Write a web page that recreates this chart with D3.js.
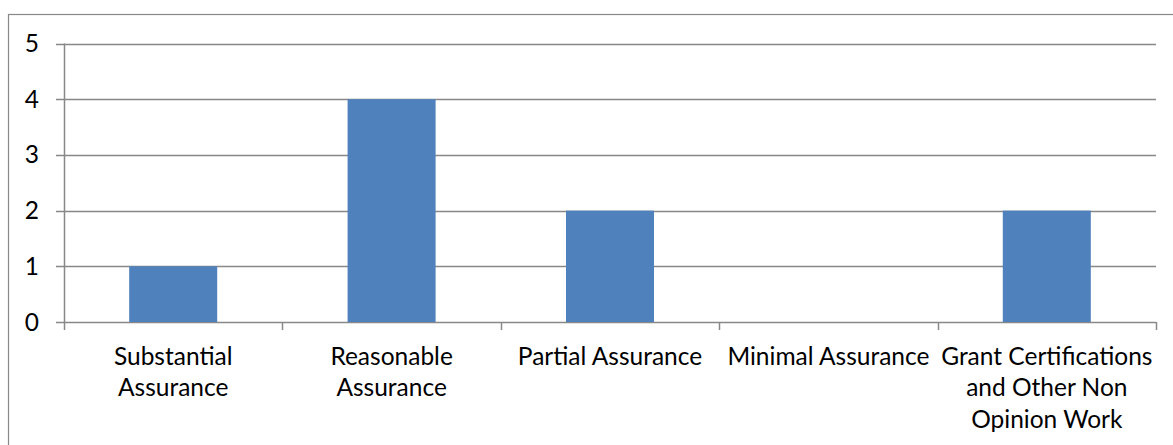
<!DOCTYPE html>
<html><head><meta charset="utf-8">
<script src="https://cdn.jsdelivr.net/npm/d3@7"></script>
<style>body{margin:0;background:#fff}svg{display:block}text{font-family:Lato,"Open Sans",sans-serif;fill:#000}</style>
</head><body><svg id="c" width="1173" height="445"></svg>
<script>
const categories = [["Substantial","Assurance"],["Reasonable","Assurance"],["Partial Assurance"],["Minimal Assurance"],["Grant Certifications","and Other Non","Opinion Work"]];
const values = [1,4,2,0,2];
const yTicks = [0,1,2,3,4,5];

const svg = d3.select("#c");
const m = {l:64, r:1156, t:43.5, b:322};
const fs = 24.5;
svg.append("rect").attr("x",8.5).attr("y",14.5).attr("width",1170).attr("height",440)
  .attr("fill","none").attr("stroke","#888").attr("stroke-width",1.2);

const x = d3.scaleBand().domain(d3.range(categories.length)).range([m.l,m.r]).paddingInner(0).paddingOuter(0);
const y = d3.scaleLinear().domain([0,5]).range([m.b,m.t]);

const grid = svg.append("g");
grid.selectAll("line").data(yTicks).join("line")
  .attr("x1",56).attr("x2",m.r).attr("y1",d=>Math.round(y(d))+0.5).attr("y2",d=>Math.round(y(d))+0.5)
  .attr("stroke","#888").attr("stroke-width",1.5);
svg.append("line").attr("x1",m.l+0.5).attr("x2",m.l+0.5).attr("y1",m.t).attr("y2",m.b).attr("stroke","#888").attr("stroke-width",1.5);

const bw = x.bandwidth()*0.403;
svg.append("g").selectAll("rect").data(values).join("rect")
  .attr("x",(d,i)=>x(i)+(x.bandwidth()-bw)/2).attr("width",bw)
  .attr("y",d=>y(d)).attr("height",d=>y(0)-y(d)).attr("fill","#4F81BD");

const bounds = d3.range(categories.length+1).map(i=>i<categories.length?x(i):m.r);
svg.append("g").selectAll("line").data(bounds).join("line")
  .attr("x1",d=>Math.round(d)+0.5).attr("x2",d=>Math.round(d)+0.5).attr("y1",m.b).attr("y2",330)
  .attr("stroke","#888").attr("stroke-width",1.5);

svg.append("g").selectAll("text").data(yTicks).join("text")
  .attr("x",39).attr("y",d=>y(d)+8.5).attr("text-anchor","end")
  .style("font-size",fs+"px").text(d=>d);

const lab = svg.append("g").selectAll("text").data(categories).join("text")
  .attr("text-anchor","middle").style("font-size",fs+"px")
  .attr("transform",(d,i)=>`translate(${x(i)+x.bandwidth()/2},${365})`);
lab.selectAll("tspan").data(d=>d).join("tspan").attr("x",0).attr("dy",(d,i)=>i?31.4:0).text(d=>d);
</script></body></html>
